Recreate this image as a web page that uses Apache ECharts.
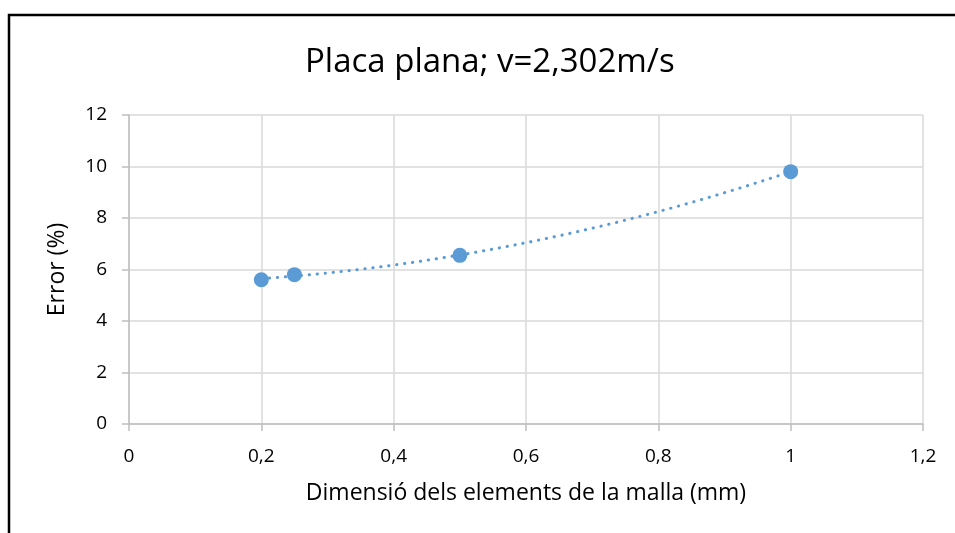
<!DOCTYPE html>
<html>
<head>
<meta charset="utf-8">
<script src="https://cdn.jsdelivr.net/npm/echarts@6/dist/echarts.min.js"></script>
<style>
  html, body { margin: 0; padding: 0; background: #fff; }
  #chart { width: 955px; height: 533px; }
</style>
</head>
<body>
<div id="chart"></div>
<script>
// Mesh element size (mm) and the measured error (%)
const meshSize = [0.2, 0.25, 0.5, 1];
const errorPct = [5.6, 5.8, 6.55, 9.8];

const xTicks = [0, 0.2, 0.4, 0.6, 0.8, 1, 1.2];
const yTicks = [0, 2, 4, 6, 8, 10, 12];

const FONT = 'Open Sans';
const BLUE = '#5B9BD5';

// Second-order polynomial trendline (least squares) over the measured points
function quadFit(xs, ys) {
  let s0 = xs.length, s1 = 0, s2 = 0, s3 = 0, s4 = 0, t0 = 0, t1 = 0, t2 = 0;
  for (let i = 0; i < xs.length; i++) {
    const x = xs[i], y = ys[i];
    s1 += x; s2 += x * x; s3 += x * x * x; s4 += x * x * x * x;
    t0 += y; t1 += x * y; t2 += x * x * y;
  }
  // Solve [[s4,s3,s2],[s3,s2,s1],[s2,s1,s0]] * [a,b,c] = [t2,t1,t0]
  const M = [[s4, s3, s2, t2], [s3, s2, s1, t1], [s2, s1, s0, t0]];
  for (let c = 0; c < 3; c++) {
    let p = c;
    for (let r = c + 1; r < 3; r++) if (Math.abs(M[r][c]) > Math.abs(M[p][c])) p = r;
    [M[c], M[p]] = [M[p], M[c]];
    for (let r = 0; r < 3; r++) {
      if (r === c) continue;
      const f = M[r][c] / M[c][c];
      for (let k = c; k < 4; k++) M[r][k] -= f * M[c][k];
    }
  }
  return [M[0][3] / M[0][0], M[1][3] / M[1][1], M[2][3] / M[2][2]];
}

const [qa, qb, qc] = quadFit(meshSize, errorPct);
const xMin = Math.min(...meshSize), xMax = Math.max(...meshSize);
const trend = [];
for (let i = 0; i <= 80; i++) {
  const x = xMin + (xMax - xMin) * i / 80;
  trend.push([x, qa * x * x + qb * x + qc]);
}

const fmt = v => String(Math.round(v * 10) / 10).replace('.', ',');

const chart = echarts.init(document.getElementById('chart'), null, { renderer: 'canvas' });
chart.setOption({
  backgroundColor: '#fff',
  animation: false,
  title: {
    text: 'Placa plana; v=2,302m/s',
    left: 305,
    top: 46,
    padding: 0,
    textStyle: { fontFamily: FONT, fontSize: 33, fontWeight: 'normal', color: '#000' }
  },
  graphic: [{
    type: 'rect',
    shape: { x: 9, y: 15, width: 960, height: 540 },
    style: { fill: 'none', stroke: '#000', lineWidth: 2.5 },
    silent: true
  }],
  grid: { left: 129, right: 32, top: 115, bottom: 109 },
  xAxis: {
    type: 'value',
    min: xTicks[0],
    max: xTicks[xTicks.length - 1],
    interval: 0.2,
    name: 'Dimensió dels elements de la malla (mm)',
    nameLocation: 'middle',
    nameGap: 58,
    nameTextStyle: { fontFamily: FONT, fontSize: 23, color: '#000' },
    axisLine: { show: true, onZero: false, lineStyle: { color: '#bfbfbf', width: 1.5 } },
    axisTick: { show: true, length: 7, lineStyle: { color: '#bfbfbf', width: 1.5 } },
    axisLabel: { margin: 23, fontFamily: FONT, fontSize: 19, color: '#000', formatter: fmt },
    splitLine: { show: true, lineStyle: { color: '#d9d9d9', width: 1.5 } }
  },
  yAxis: {
    type: 'value',
    min: yTicks[0],
    max: yTicks[yTicks.length - 1],
    interval: 2,
    name: 'Error (%)',
    nameLocation: 'middle',
    nameGap: 60,
    nameTextStyle: { fontFamily: FONT, fontSize: 23, color: '#000' },
    axisLine: { show: true, lineStyle: { color: '#bfbfbf', width: 1.5 } },
    axisTick: { show: true, length: 7, lineStyle: { color: '#bfbfbf', width: 1.5 } },
    axisLabel: { margin: 22, fontFamily: FONT, fontSize: 19, color: '#000', formatter: fmt },
    splitLine: { show: true, lineStyle: { color: '#d9d9d9', width: 1.5 } }
  },
  series: [
    {
      type: 'line',
      data: trend,
      showSymbol: false,
      smooth: false,
      z: 2,
      lineStyle: { color: BLUE, width: 3, type: [0.3, 7.7], cap: 'round' }
    },
    {
      type: 'scatter',
      data: meshSize.map((x, i) => [x, errorPct[i]]),
      symbol: 'circle',
      symbolSize: 15,
      z: 3,
      itemStyle: { color: BLUE, opacity: 1 }
    }
  ]
});
</script>
</body>
</html>
